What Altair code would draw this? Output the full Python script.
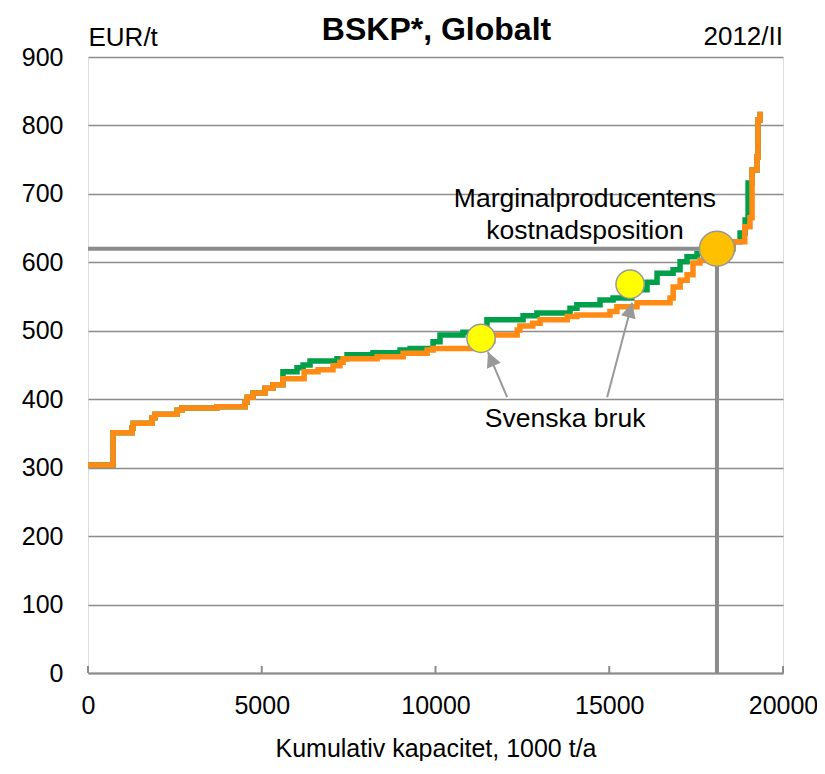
import altair as alt
import pandas as pd

FONT = "Liberation Sans"
GREEN = "#00A04B"
ORANGE = "#FF8A14"
GRAY = "#8C8C8C"

# Cost curve, orange series (step start x in 1000 t/a, cost EUR/t)
orange_x = [0, 720, 1266, 1300, 1840, 1930, 2560, 2700, 3710, 4520, 4580, 4750, 5090, 5320,
            5610, 6220, 6620, 7050, 7250, 7340, 8320, 9070, 9760, 9930, 11300, 11650, 12350,
            12430, 12800, 13010, 13790, 14070, 15020, 15220, 15800, 16750, 16840, 17040, 17240,
            17410, 17610, 18300, 18560, 18900, 19050, 19110, 19250, 19280, 19340]
orange_y = [304, 351, 358, 365, 373, 378, 384, 387, 389, 396, 403, 409, 416, 421,
            430, 440, 443, 449, 454, 459, 462, 467, 472, 474, 485, 494, 501,
            507, 511, 516, 521, 523, 528, 535, 541, 548, 564, 574, 582,
            599, 603, 620, 630, 652, 665, 735, 754, 808, 820]

# Cost curve, green series
green_x = [0, 720, 1266, 1300, 1840, 1930, 2560, 2700, 3710, 4520, 4580, 4750, 5090, 5320,
           5610, 6015, 6190, 6390, 7166, 7454, 8200, 8980, 9270, 9930, 10130, 10790, 11480,
           12520, 12920, 13870, 14070, 14735, 15110, 15650, 16088, 16376, 16836, 17038, 17239,
           17527, 18100, 18563, 18765, 18909, 18995, 19110, 19250, 19280, 19340]
green_y = [304, 351, 358, 365, 373, 378, 384, 387, 389, 396, 403, 409, 416, 421,
           440, 446, 450, 456, 459, 465, 468, 472, 474, 484, 494, 498, 516,
           522, 526, 533, 538, 545, 548, 560, 571, 584, 589, 601, 608,
           613, 620, 630, 643, 662, 716, 735, 754, 808, 820]

# Swedish mills (yellow markers)
swe_x = [11310, 15600]
swe_y = [489, 568]

# Marginal producer
marg_x = [18100]
marg_y = [620]

# Arrows from label to Swedish mills
arrow_x0 = [12060, 14940]
arrow_y0 = [403, 403]
arrow_x1 = [11510, 15660]
arrow_y1 = [469, 541]
arrow_angle = [337, 15]

x_ticks = [0, 5000, 10000, 15000, 20000]
y_ticks = [0, 100, 200, 300, 400, 500, 600, 700, 800, 900]

W, H = 695, 616

xs = alt.Scale(domain=[0, 20000], nice=False, zero=False)
ys = alt.Scale(domain=[0, 900], nice=False)

x_axis = alt.Axis(values=x_ticks, format="d", grid=False, ticks=False, tickSize=0,
                  domainColor=GRAY, domainWidth=2, labelFontSize=25, labelPadding=20,
                  labelColor="black", labelFlush=False, labelOverlap=False,
                  title="Kumulativ kapacitet, 1000 t/a", titleFontSize=25,
                  titleFontWeight="normal", titleColor="black", titleBaseline="alphabetic",
                  titleY=83, titleX=W / 2, titleAlign="center")
y_axis = alt.Axis(values=y_ticks, format="d", grid=True, gridColor=GRAY, gridWidth=1.5,
                  domain=False, ticks=False, tickSize=0, labelFontSize=25, labelPadding=25,
                  labelColor="black", labelOverlap=False, labelFlush=False,
                  title="EUR/t", titleAngle=0, titleAlign="left", titleBaseline="alphabetic",
                  titleX=0, titleY=-12, titleFontSize=26, titleFontWeight="normal",
                  titleColor="black")

df_g = pd.DataFrame({"x": green_x, "y": green_y, "o": list(range(len(green_x)))})
df_o = pd.DataFrame({"x": orange_x, "y": orange_y, "o": list(range(len(orange_x)))})

green_line = alt.Chart(df_g).mark_line(interpolate="step-after", strokeWidth=5.5, color=GREEN).encode(
    x=alt.X("x:Q", scale=xs, axis=x_axis),
    y=alt.Y("y:Q", scale=ys, axis=y_axis),
    order="o:Q",
)
orange_line = alt.Chart(df_o).mark_line(interpolate="step-after", strokeWidth=5.5, color=ORANGE).encode(
    x=alt.X("x:Q", scale=xs),
    y=alt.Y("y:Q", scale=ys),
    order="o:Q",
)

# upward ticks on the x axis
tick_df = pd.DataFrame({"x": x_ticks})
ticks = alt.Chart(tick_df).mark_rule(color=GRAY, strokeWidth=2).encode(
    x=alt.X("x:Q", scale=xs), y=alt.value(H), y2=alt.value(H - 7)
)

marg_df = pd.DataFrame({"x": marg_x, "y": marg_y, "x0": [0], "y0": [0]})
hline = alt.Chart(marg_df).mark_rule(color=GRAY, strokeWidth=4).encode(
    x=alt.X("x0:Q", scale=xs), x2="x:Q", y=alt.Y("y:Q", scale=ys)
)
vline = alt.Chart(marg_df).mark_rule(color=GRAY, strokeWidth=4).encode(
    x=alt.X("x:Q", scale=xs), y=alt.Y("y0:Q", scale=ys), y2="y:Q"
)
marg_pt = alt.Chart(marg_df).mark_circle(size=1225, color="#FFC000", opacity=1,
                                         stroke="#999999", strokeWidth=1.5).encode(
    x=alt.X("x:Q", scale=xs), y=alt.Y("y:Q", scale=ys)
)

swe_df = pd.DataFrame({"x": swe_x, "y": swe_y})
swe_pts = alt.Chart(swe_df).mark_circle(size=800, color="#FFFF00", opacity=1,
                                        stroke="#999999", strokeWidth=1.5).encode(
    x=alt.X("x:Q", scale=xs), y=alt.Y("y:Q", scale=ys)
)

arr_df = pd.DataFrame({"x0": arrow_x0, "y0": arrow_y0, "x1": arrow_x1, "y1": arrow_y1,
                       "a": arrow_angle})
arr_lines = alt.Chart(arr_df).mark_rule(color="#999999", strokeWidth=2).encode(
    x=alt.X("x0:Q", scale=xs), y=alt.Y("y0:Q", scale=ys), x2="x1:Q", y2="y1:Q"
)
arr_heads = alt.Chart(arr_df).mark_point(shape="M0,0L-0.5,1L0.5,1Z", filled=True,
                                         color="#999999", opacity=1, size=900).encode(
    x=alt.X("x1:Q", scale=xs), y=alt.Y("y1:Q", scale=ys),
    angle=alt.Angle("a:Q", scale=None)
)

ann_df = pd.DataFrame({"x": [14300, 13730], "y": [681, 359],
                       "t": ["Marginalproducentens\nkostnadsposition", "Svenska bruk"]})
ann = alt.Chart(ann_df).mark_text(fontSize=26.5, font=FONT, color="black", align="center",
                                  baseline="alphabetic", lineBreak="\n", lineHeight=32).encode(
    x=alt.X("x:Q", scale=xs), y=alt.Y("y:Q", scale=ys), text="t:N"
)

title_df = pd.DataFrame({"t": ["BSKP*, Globalt"]})
title = alt.Chart(title_df).mark_text(fontSize=32, fontWeight="bold", font=FONT, color="black",
                                      align="center", baseline="alphabetic").encode(
    x=alt.value(W / 2 + 1), y=alt.value(-17), text="t:N"
)
per_df = pd.DataFrame({"t": ["2012/II"]})
period = alt.Chart(per_df).mark_text(fontSize=26, font=FONT, color="black",
                                     align="right", baseline="alphabetic").encode(
    x=alt.value(W), y=alt.value(-12), text="t:N"
)

chart = alt.layer(
    green_line, orange_line, ticks, hline, vline, arr_lines, arr_heads,
    swe_pts, marg_pt, ann, title, period
).properties(
    width=W, height=H,
    padding={"left": 80, "top": 49, "right": 34, "bottom": 88},
    autosize=alt.AutoSizeParams(type="none"),
    background="white",
).configure_view(stroke=None).configure(font=FONT)

chart.save("out.html", embed_options={"renderer": "svg", "actions": False})
